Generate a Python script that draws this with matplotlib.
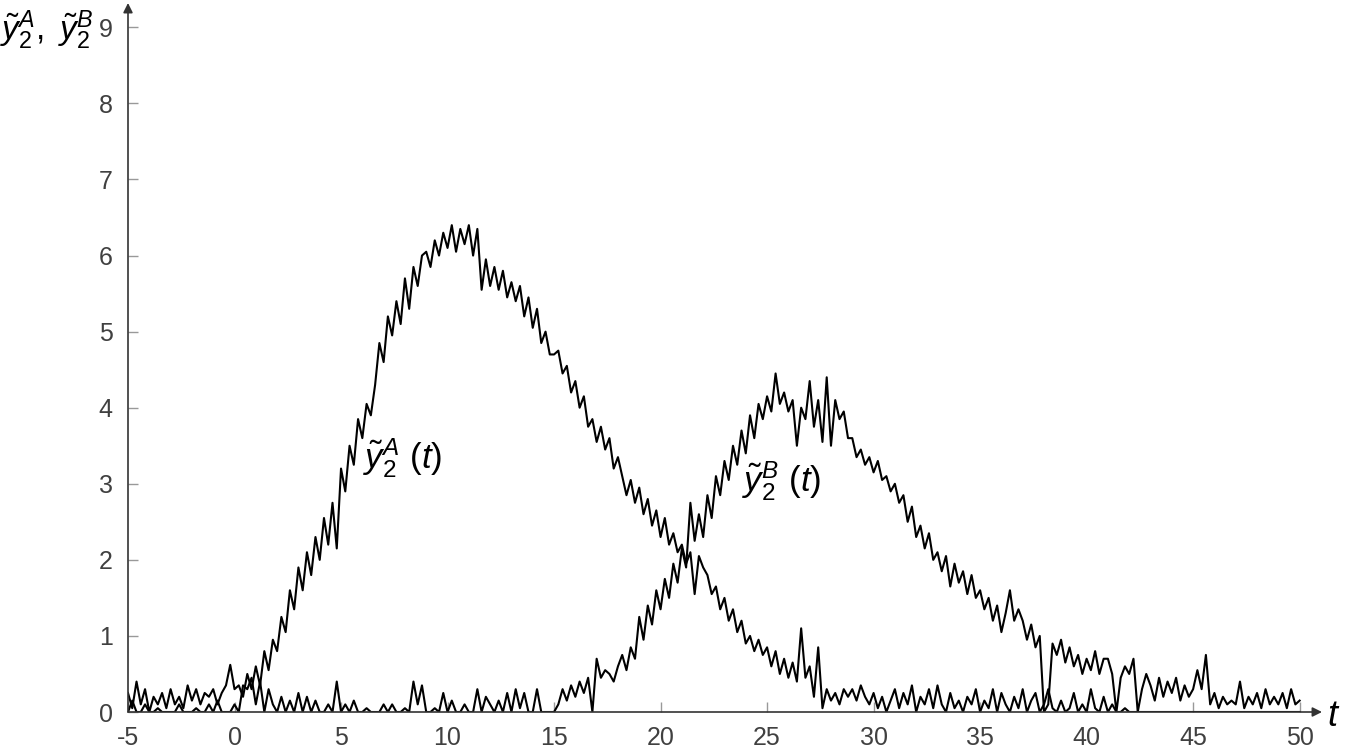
import numpy as np
import matplotlib
matplotlib.use("Agg")
import matplotlib.pyplot as plt

# time grid: -5 .. 50 in steps of 0.2
t = np.round(np.arange(-5.0, 50.0001, 0.2), 2)

# y2 tilde A(t), 10 values per 2 time units
y2_A = [
    0.25, 0.05, 0.40, 0.10, 0.30, 0.00, 0.20, 0.10, 0.25, 0.05,   # -5 .. -3.2
    0.30, 0.10, 0.20, 0.05, 0.35, 0.15, 0.30, 0.10, 0.25, 0.20,   # -3 .. -1.2
    0.30, 0.10, 0.25, 0.35, 0.62, 0.30, 0.35, 0.20, 0.50, 0.30,   # -1 .. 0.8
    0.60, 0.35, 0.80, 0.55, 0.95, 0.80, 1.25, 1.05, 1.60, 1.35,   # 1 .. 2.8
    1.90, 1.60, 2.10, 1.80, 2.30, 2.00, 2.55, 2.20, 2.75, 2.15,   # 3 .. 4.8
    3.20, 2.90, 3.50, 3.25, 3.85, 3.60, 4.05, 3.90, 4.30, 4.85,   # 5 .. 6.8
    4.60, 5.20, 4.95, 5.40, 5.10, 5.70, 5.30, 5.85, 5.60, 6.00,   # 7 .. 8.8
    6.05, 5.85, 6.20, 6.00, 6.30, 6.10, 6.40, 6.05, 6.35, 6.15,   # 9 .. 10.8
    6.40, 6.00, 6.35, 5.55, 5.95, 5.60, 5.85, 5.55, 5.80, 5.45,   # 11 .. 12.8
    5.65, 5.40, 5.60, 5.20, 5.45, 5.05, 5.30, 4.85, 5.00, 4.70,   # 13 .. 14.8
    4.70, 4.75, 4.45, 4.55, 4.20, 4.35, 4.00, 4.15, 3.75, 3.85,   # 15 .. 16.8
    3.55, 3.75, 3.45, 3.60, 3.20, 3.35, 3.10, 2.85, 3.05, 2.75,   # 17 .. 18.8
    2.95, 2.60, 2.80, 2.45, 2.65, 2.30, 2.55, 2.20, 2.35, 2.10,   # 19 .. 20.8
    2.20, 1.95, 2.10, 1.55, 2.05, 1.90, 1.80, 1.55, 1.65, 1.35,   # 21 .. 22.8
    1.50, 1.20, 1.35, 1.05, 1.20, 0.90, 1.00, 0.80, 0.95, 0.75,   # 23 .. 24.8
    0.85, 0.60, 0.80, 0.50, 0.70, 0.45, 0.65, 0.40, 1.10, 0.45,   # 25 .. 26.8
    0.60, 0.20, 0.85, 0.05, 0.30, 0.15, 0.25, 0.10, 0.30, 0.20,   # 27 .. 28.8
    0.30, 0.15, 0.35, 0.20, 0.10, 0.25, 0.05, 0.20, 0.00, 0.15,   # 29 .. 30.8
    0.30, 0.05, 0.25, 0.10, 0.35, 0.00, 0.20, 0.10, 0.30, 0.05,   # 31 .. 32.8
    0.35, 0.10, 0.00, 0.25, 0.05, 0.15, 0.00, 0.20, 0.10, 0.30,   # 33 .. 34.8
    0.00, 0.15, 0.05, 0.30, 0.00, 0.25, 0.10, 0.00, 0.20, 0.05,   # 35 .. 36.8
    0.30, 0.00, 0.15, 0.25, 0.00, 0.10, 0.30, 0.05, 0.00, 0.15,   # 37 .. 38.8
    0.00, 0.05, 0.25, 0.00, 0.10, 0.00, 0.30, 0.05, 0.00, 0.20,   # 39 .. 40.8
    0.00, 0.10, 0.00, 0.00, 0.05, 0.00, 0.00, 0.00, 0.00, 0.00,   # 41 .. 42.8
    0.00, 0.00, 0.00, 0.00, 0.00, 0.00, 0.00, 0.00, 0.00, 0.00,   # 43 .. 44.8
    0.00, 0.00, 0.00, 0.00, 0.00, 0.00, 0.00, 0.00, 0.00, 0.00,   # 45 .. 46.8
    0.00, 0.00, 0.00, 0.00, 0.00, 0.00, 0.00, 0.00, 0.00, 0.00,   # 47 .. 48.8
    0.00, 0.00, 0.00, 0.00, 0.00, 0.00,                           # 49 .. 50
]

# y2 tilde B(t)
y2_B = [
    0.00, 0.15, 0.00, 0.00, 0.10, 0.00, 0.00, 0.05, 0.00, 0.00,   # -5 .. -3.2
    0.00, 0.00, 0.10, 0.00, 0.00, 0.00, 0.05, 0.00, 0.00, 0.10,   # -3 .. -1.2
    0.00, 0.15, 0.00, 0.00, 0.00, 0.10, 0.00, 0.35, 0.30, 0.45,   # -1 .. 0.8
    0.10, 0.40, 0.00, 0.30, 0.10, 0.00, 0.20, 0.00, 0.15, 0.00,   # 1 .. 2.8
    0.25, 0.00, 0.20, 0.00, 0.15, 0.00, 0.00, 0.10, 0.00, 0.40,   # 3 .. 4.8
    0.00, 0.10, 0.00, 0.15, 0.00, 0.00, 0.05, 0.00, 0.00, 0.00,   # 5 .. 6.8
    0.10, 0.00, 0.10, 0.00, 0.00, 0.05, 0.00, 0.40, 0.10, 0.35,   # 7 .. 8.8
    0.00, 0.00, 0.05, 0.00, 0.25, 0.00, 0.15, 0.00, 0.00, 0.10,   # 9 .. 10.8
    0.00, 0.00, 0.30, 0.00, 0.20, 0.10, 0.00, 0.15, 0.00, 0.25,   # 11 .. 12.8
    0.00, 0.30, 0.05, 0.25, 0.00, 0.00, 0.30, 0.00, 0.00, 0.00,   # 13 .. 14.8
    0.00, 0.10, 0.30, 0.15, 0.35, 0.20, 0.40, 0.25, 0.45, 0.00,   # 15 .. 16.8
    0.70, 0.45, 0.55, 0.50, 0.40, 0.60, 0.75, 0.55, 0.85, 0.70,   # 17 .. 18.8
    1.25, 0.95, 1.40, 1.15, 1.60, 1.35, 1.75, 1.50, 1.95, 1.70,   # 19 .. 20.8
    2.15, 1.90, 2.75, 2.25, 2.60, 2.30, 2.85, 2.55, 3.10, 2.85,   # 21 .. 22.8
    3.30, 3.05, 3.50, 3.25, 3.70, 3.40, 3.90, 3.60, 4.05, 3.85,   # 23 .. 24.8
    4.15, 3.95, 4.45, 4.05, 4.20, 3.95, 4.10, 3.50, 4.00, 3.85,   # 25 .. 26.8
    4.35, 3.75, 4.10, 3.55, 4.40, 3.50, 4.10, 3.85, 3.95, 3.60,   # 27 .. 28.8
    3.60, 3.35, 3.45, 3.25, 3.35, 3.15, 3.30, 3.05, 3.10, 2.90,   # 29 .. 30.8
    3.00, 2.75, 2.85, 2.50, 2.70, 2.30, 2.45, 2.15, 2.35, 2.00,   # 31 .. 32.8
    2.10, 1.85, 2.05, 1.65, 1.95, 1.70, 1.85, 1.55, 1.80, 1.50,   # 33 .. 34.8
    1.60, 1.35, 1.50, 1.20, 1.40, 1.05, 1.30, 1.60, 1.20, 1.35,   # 35 .. 36.8
    1.20, 0.95, 1.15, 0.85, 1.00, 0.00, 0.10, 0.90, 0.75, 0.95,   # 37 .. 38.8
    0.65, 0.85, 0.60, 0.75, 0.50, 0.70, 0.55, 0.80, 0.50, 0.70,   # 39 .. 40.8
    0.70, 0.50, 0.00, 0.45, 0.60, 0.50, 0.70, 0.00, 0.30, 0.50,   # 41 .. 42.8
    0.35, 0.15, 0.45, 0.20, 0.40, 0.25, 0.45, 0.15, 0.35, 0.20,   # 43 .. 44.8
    0.30, 0.55, 0.30, 0.75, 0.10, 0.25, 0.05, 0.20, 0.10, 0.15,   # 45 .. 46.8
    0.10, 0.40, 0.05, 0.20, 0.10, 0.25, 0.05, 0.30, 0.10, 0.20,   # 47 .. 48.8
    0.10, 0.25, 0.05, 0.30, 0.10, 0.15,                           # 49 .. 50
]

x_ticks = [-5, 0, 5, 10, 15, 20, 25, 30, 35, 40, 45, 50]
y_ticks = [0, 1, 2, 3, 4, 5, 6, 7, 8, 9]

plt.rcParams["font.family"] = ["Liberation Sans", "DejaVu Sans"]
plt.rcParams["mathtext.fontset"] = "custom"
plt.rcParams["mathtext.rm"] = "Liberation Sans"
plt.rcParams["mathtext.it"] = "Liberation Sans:italic"
plt.rcParams["axes.unicode_minus"] = False

fig = plt.figure(figsize=(13.46, 7.52), dpi=100)
ax = fig.add_axes([128 / 1346, 40 / 752, (1322 - 128) / 1346, (712 - 3) / 752])

ax.plot(t, y2_A, color="black", lw=1.5)
ax.plot(t, y2_B, color="black", lw=1.5)

ax.set_xlim(-5, 51.05)
ax.set_ylim(0, 9.32)
ax.set_xticks(x_ticks)
ax.set_yticks(y_ticks)
ax.tick_params(axis="both", direction="in", length=7, width=1, colors="#999999",
               labelcolor="#404040", labelsize=18)
ax.tick_params(axis="y", pad=11)
ax.tick_params(axis="x", pad=10)

for s in ax.spines.values():
    s.set_visible(False)

# axis lines with arrows
arrow = dict(arrowstyle="-|>", color="#333333", lw=1.2, mutation_scale=14,
             shrinkA=0, shrinkB=0)
ax.annotate("", xy=(1, 0), xytext=(0, 0), xycoords="axes fraction",
            arrowprops=arrow, annotation_clip=False)
ax.annotate("", xy=(0, 1), xytext=(0, 0), xycoords="axes fraction",
            arrowprops=arrow, annotation_clip=False)

# curve labels
ax.text(7.9, 3.34, r"$\tilde{y}_2^A$ $\it{(t)}$", fontsize=25, ha="center", va="center")
ax.text(25.7, 3.03, r"$\tilde{y}_2^B$ $\it{(t)}$", fontsize=25, ha="center", va="center")

# axis labels
fig.text(0, 1 - 30 / 752, r"$\tilde{y}_2^A,\ \tilde{y}_2^B$", fontsize=24,
         ha="left", va="center")
fig.text(1327 / 1346, 1 - 716 / 752, r"$t$", fontsize=26, ha="left", va="center")

fig.savefig("out.png", dpi=100)
